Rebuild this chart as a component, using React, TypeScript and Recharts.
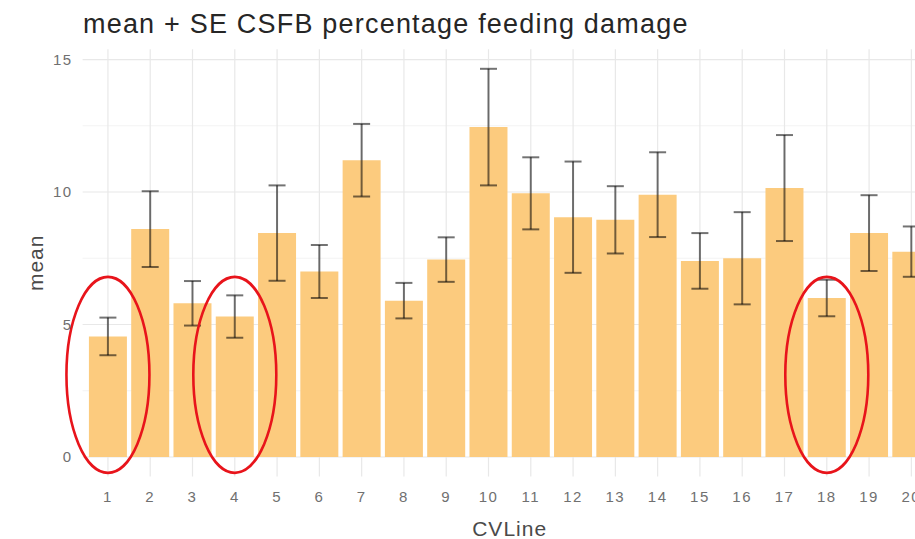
import React from "react";
import {
  BarChart,
  Bar,
  XAxis,
  YAxis,
  CartesianGrid,
  ErrorBar,
  ReferenceDot,
} from "recharts";

// CV lines shown on the x axis
const cvLines = ["1", "2", "3", "4", "5", "6", "7", "8", "9", "10", "11", "12", "13", "14", "15", "16", "17", "18", "19", "20"];

// mean % feeding damage per line
const means = [4.55, 8.6, 5.8, 5.3, 8.45, 7.0, 11.2, 5.9, 7.45, 12.45, 9.95, 9.05, 8.95, 9.9, 7.4, 7.5, 10.15, 6.0, 8.45, 7.75];

// standard error per line
const ses = [0.71, 1.43, 0.84, 0.8, 1.8, 1.0, 1.37, 0.67, 0.84, 2.2, 1.36, 2.1, 1.27, 1.6, 1.05, 1.74, 2.0, 0.69, 1.43, 0.95];

// y ticks and minor grid
const yTicks = [0, 5, 10, 15];
const minorTicks = [2.5, 7.5, 12.5];

// lines circled in red, and where the circle is centred
const circledLines = ["1", "4", "18"];
const circleCenter = 3.1;

const chartData = cvLines.map((line, i) => ({ line, mean: means[i], se: ses[i] }));

const FONT = "'Liberation Sans', Arial, sans-serif";

function Ellipse(props: any) {
  const { cx, cy } = props;
  return (
    <ellipse cx={cx} cy={cy} rx={41.5} ry={98} fill="none" stroke="#e8141b" strokeWidth={2.6} />
  );
}

function MeanLabel(props: any) {
  const vb = props.viewBox || {};
  const cy = vb.y + vb.height / 2;
  return (
    <text
      x={36}
      y={cy}
      transform={`rotate(-90, 36, ${cy})`}
      textAnchor="middle"
      dominantBaseline="central"
      fontSize={21}
      letterSpacing={1}
      fill="#4a4a4a"
      fontFamily={FONT}
    >
      mean
    </text>
  );
}

export default function App() {
  return (
    <div
      style={{
        position: "fixed",
        left: 0,
        top: 0,
        width: 915,
        height: 539,
        overflow: "hidden",
        background: "#fff",
      }}
    >
      <div
        style={{
          position: "absolute",
          left: 83,
          top: 11,
          fontFamily: FONT,
          fontSize: 27,
          lineHeight: "27px",
          letterSpacing: 1.2,
          color: "#262626",
          whiteSpace: "nowrap",
          zIndex: 2,
        }}
      >
        mean + SE CSFB percentage feeding damage
      </div>
      <BarChart
        width={945}
        height={539}
        data={chartData}
        margin={{ top: 49.2, right: 8.3, bottom: 0, left: 0 }}
        barCategoryGap="5%"
      >
        {/* minor grid first, then major grid on top of it, both under the bars */}
        <CartesianGrid
          vertical={false}
          horizontalValues={minorTicks}
          stroke="#f3f3f3"
          strokeWidth={1}
        />
        <CartesianGrid
          horizontalValues={yTicks}
          verticalValues={cvLines}
          stroke="#e8e8e8"
          strokeWidth={1.2}
        />
        <XAxis
          dataKey="line"
          height={62.6}
          padding={{ left: 4.2, right: 4.2 }}
          axisLine={false}
          tickLine={false}
          tickSize={0}
          tickMargin={15}
          interval={0}
          tick={{ fill: "#707070", fontSize: 15, fontFamily: FONT, letterSpacing: 1.5 }}
          label={{
            value: "CVLine",
            position: "insideBottom",
            offset: 3,
            fill: "#4a4a4a",
            fontSize: 21,
            fontFamily: FONT,
            letterSpacing: 1,
          }}
        />
        <YAxis
          type="number"
          domain={[-0.733, 15.39]}
          allowDataOverflow
          ticks={yTicks}
          width={82.6}
          axisLine={false}
          tickLine={false}
          tickSize={0}
          tickMargin={10}
          tick={{ fill: "#707070", fontSize: 15, fontFamily: FONT, letterSpacing: 1.5 }}
          label={{ content: (p: any) => <MeanLabel {...p} /> }}
        />
        <Bar dataKey="mean" fill="#fccb7e" isAnimationActive={false}>
          <ErrorBar
            dataKey="se"
            direction="y"
            width={8.5}
            stroke="rgba(0,0,0,0.55)"
            strokeWidth={2}
            isAnimationActive={false}
          />
        </Bar>
        {circledLines.map((l) => (
          <ReferenceDot key={l} x={l} y={circleCenter} ifOverflow="visible" shape={Ellipse} />
        ))}
      </BarChart>
    </div>
  );
}
